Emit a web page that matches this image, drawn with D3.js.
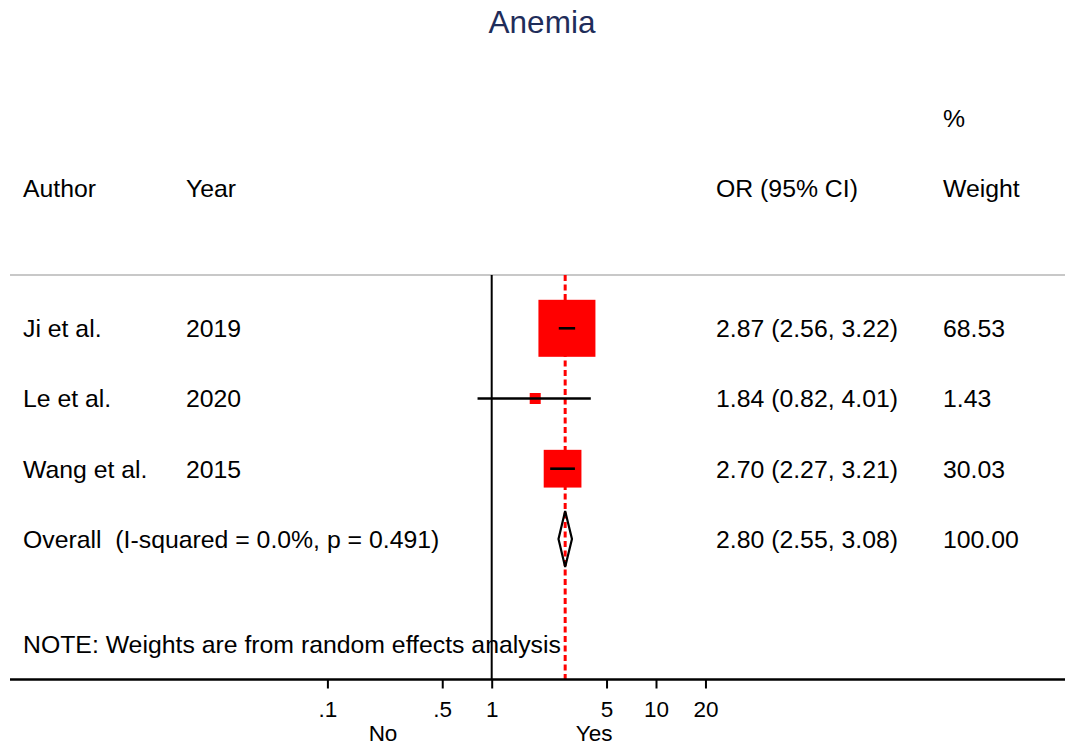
<!DOCTYPE html>
<html>
<head>
<meta charset="utf-8">
<script src="https://cdn.jsdelivr.net/npm/d3@7"></script>
<style>
  html, body { margin: 0; padding: 0; background: #fff; }
  svg { display: block; }
  text { font-family: Arial, "Liberation Sans", Helvetica, sans-serif; fill: #000; white-space: pre; }
</style>
</head>
<body>
<svg id="chart" width="1065" height="747"></svg>
<script>
// Study-level odds ratios for anemia
const authors = ["Ji et al.", "Le et al.", "Wang et al."];
const years = ["2019", "2020", "2015"];
const oddsRatios = [2.87, 1.84, 2.70];
const lowerCI = [2.56, 0.82, 2.27];
const upperCI = [3.22, 4.01, 3.21];
const weights = [68.53, 1.43, 30.03];

// Pooled random-effects estimate
const overallOR = 2.80;
const overallLower = 2.55;
const overallUpper = 3.08;
const overallLabel = "Overall  (I-squared = 0.0%, p = 0.491)";
const overallWeight = "100.00";

const tickValues = [0.1, 0.5, 1, 5, 10, 20];
const tickLabels = [".1", ".5", "1", "5", "10", "20"];

const fmt = d3.format(".2f");
const svg = d3.select("#chart");

const x = d3.scaleLog().domain([0.1, 10]).range([327.4, 656.0]);
const row = d3.scaleLinear().domain([0, 1]).range([328.3, 398.5]);
const boxSide = d3.scaleSqrt().domain([0, d3.max(weights)]).range([0, 57]);

const colAuthor = 23, colYear = 186, colOR = 716, colWeight = 943;
const topLine = 275, axisY = 679.5;
const fontSize = 24.8;
const baseOffset = 8.8;

// Title
svg.append("text")
  .attr("x", 542).attr("y", 33)
  .attr("text-anchor", "middle")
  .style("font-size", "31.5px")
  .style("fill", "#1f2d5a")
  .text("Anemia");

// Column headers
const header = svg.append("g").style("font-size", fontSize + "px");
header.append("text").attr("x", colWeight).attr("y", row(-3) + baseOffset).text("%");
header.append("text").attr("x", colAuthor).attr("y", row(-2) + baseOffset).text("Author");
header.append("text").attr("x", colYear).attr("y", row(-2) + baseOffset).text("Year");
header.append("text").attr("x", colOR).attr("y", row(-2) + baseOffset).text("OR (95% CI)");
header.append("text").attr("x", colWeight).attr("y", row(-2) + baseOffset).text("Weight");

// Separator under headers
svg.append("line")
  .attr("x1", 10).attr("x2", 1065)
  .attr("y1", topLine).attr("y2", topLine)
  .attr("stroke", "#c8c8c8").attr("stroke-width", 2);

// Null line at OR = 1
svg.append("line")
  .attr("x1", x(1)).attr("x2", x(1))
  .attr("y1", topLine).attr("y2", axisY)
  .attr("stroke", "#000").attr("stroke-width", 2);

// Study boxes sized by weight
const studies = authors.map((a, i) => ({
  author: a, year: years[i], or: oddsRatios[i], lo: lowerCI[i], hi: upperCI[i], w: weights[i], i
}));

svg.append("g").selectAll("rect")
  .data(studies).join("rect")
  .attr("x", d => x(d.or) - Math.max(11, boxSide(d.w)) / 2)
  .attr("y", d => row(d.i) - Math.max(11, boxSide(d.w)) / 2)
  .attr("width", d => Math.max(11, boxSide(d.w)))
  .attr("height", d => Math.max(11, boxSide(d.w)))
  .attr("fill", "#ff0000");

// Pooled estimate reference line
svg.append("line")
  .attr("x1", x(overallOR)).attr("x2", x(overallOR))
  .attr("y1", topLine).attr("y2", axisY)
  .attr("stroke", "#ff0000").attr("stroke-width", 3)
  .attr("stroke-dasharray", "6,3.5");

// Pooled diamond
const oy = row(3);
svg.append("path")
  .attr("d", `M${x(overallLower)},${oy} L${x(overallOR)},${oy - 28} L${x(overallUpper)},${oy} L${x(overallOR)},${oy + 28} Z`)
  .attr("fill", "none").attr("stroke", "#000").attr("stroke-width", 2.2)
  .attr("stroke-linejoin", "miter");

// Confidence intervals
svg.append("g").selectAll("line")
  .data(studies).join("line")
  .attr("x1", d => x(d.lo)).attr("x2", d => x(d.hi))
  .attr("y1", d => row(d.i)).attr("y2", d => row(d.i))
  .attr("stroke", "#000").attr("stroke-width", 2.6);

// Row labels
const labels = svg.append("g").style("font-size", fontSize + "px");
studies.forEach(d => {
  const y = row(d.i) + baseOffset;
  labels.append("text").attr("x", colAuthor).attr("y", y).text(d.author);
  labels.append("text").attr("x", colYear).attr("y", y).text(d.year);
  labels.append("text").attr("x", colOR).attr("y", y)
    .text(`${fmt(d.or)} (${fmt(d.lo)}, ${fmt(d.hi)})`);
  labels.append("text").attr("x", colWeight).attr("y", y).text(fmt(d.w));
});
labels.append("text").attr("x", colAuthor).attr("y", oy + baseOffset).text(overallLabel);
labels.append("text").attr("x", colOR).attr("y", oy + baseOffset)
  .text(`${fmt(overallOR)} (${fmt(overallLower)}, ${fmt(overallUpper)})`);
labels.append("text").attr("x", colWeight).attr("y", oy + baseOffset).text(overallWeight);

labels.append("text").attr("x", colAuthor).attr("y", row(4.5) + baseOffset)
  .text("NOTE: Weights are from random effects analysis");

// Bottom axis
svg.append("line")
  .attr("x1", 10).attr("x2", 1065)
  .attr("y1", axisY).attr("y2", axisY)
  .attr("stroke", "#000").attr("stroke-width", 2.5);

const axis = d3.axisBottom(x)
  .tickValues(tickValues)
  .tickFormat((d, i) => tickLabels[i])
  .tickSize(9)
  .tickPadding(20);

const gAxis = svg.append("g")
  .attr("transform", `translate(0,${axisY})`)
  .call(axis);
gAxis.select(".domain").remove();
gAxis.selectAll(".tick line").attr("stroke", "#000").attr("stroke-width", 2);
gAxis.selectAll(".tick text")
  .attr("dy", null)
  .attr("y", 717 - axisY)
  .style("font-size", "22.5px")
  .style("font-family", "Arial, 'Liberation Sans', Helvetica, sans-serif")
  .attr("fill", "#000");

// Direction labels
svg.append("text").attr("x", x(0.218)).attr("y", 741)
  .attr("text-anchor", "middle").style("font-size", "22.5px").text("No");
svg.append("text").attr("x", x(4.2)).attr("y", 741)
  .attr("text-anchor", "middle").style("font-size", "22.5px").text("Yes");
</script>
</body>
</html>
